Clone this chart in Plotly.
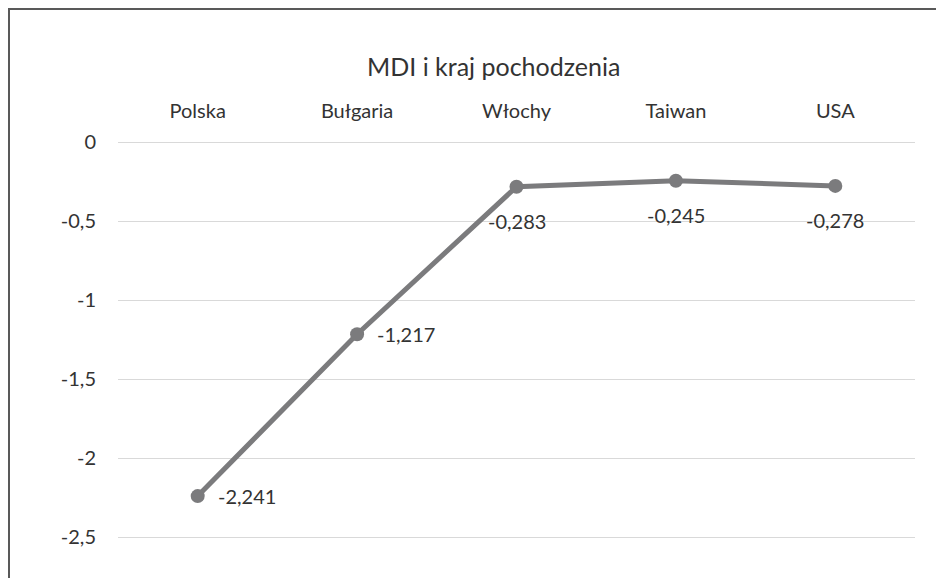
import plotly.graph_objects as go

categories = ["Polska", "Bułgaria", "Włochy", "Taiwan", "USA"]
values = [-2.241, -1.217, -0.283, -0.245, -0.278]
label_pos = ["right", "right", "below", "below", "below"]
y_ticks = [0, -0.5, -1, -1.5, -2, -2.5]

W, H = 944, 578
ML, MR, MT, MB = 110, 37, 130, 0
pw, ph = W - ML - MR, H - MT - MB
PX_PER_UNIT = 158.0
TOP_PAD_PX = 4


def fmt(v):
    return f"{v:.3f}".replace(".", ",")


def fmt_tick(v):
    if v == 0:
        return "0"
    return f"{v:g}".replace(".", ",")


line_color = "#7b7b7d"
text_color = "#333333"
font_family = "Lato, 'Open Sans', sans-serif"
FS = 20

fig = go.Figure()
fig.add_trace(go.Scatter(
    x=categories, y=values, mode="lines+markers",
    line=dict(color=line_color, width=5),
    marker=dict(color=line_color, size=14),
    hoverinfo="skip", showlegend=False,
))

annotations = []
for c, v, p in zip(categories, values, label_pos):
    if p == "right":
        annotations.append(dict(x=c, y=v, xref="x", yref="y", text=fmt(v),
                                showarrow=False, xanchor="left", yanchor="middle",
                                xshift=18, font=dict(size=FS, color=text_color, family=font_family)))
    else:
        annotations.append(dict(x=c, y=v, xref="x", yref="y", text=fmt(v),
                                showarrow=False, xanchor="center", yanchor="middle",
                                yshift=-34, font=dict(size=FS, color=text_color, family=font_family)))

# title
annotations.append(dict(x=(485 - ML) / pw, y=(H - MB - 58) / ph, xref="paper", yref="paper",
                        text="MDI i kraj pochodzenia", showarrow=False,
                        xanchor="center", yanchor="middle",
                        font=dict(size=25, color=text_color, family=font_family)))

y_top = TOP_PAD_PX / PX_PER_UNIT
y_min = y_top - ph / PX_PER_UNIT

# outer border (left & top visible)
x0 = (1 - ML) / pw
x1 = (980 - ML) / pw
y1 = (H - MB - 1) / ph

fig.update_layout(
    width=W, height=H,
    margin=dict(l=ML, r=MR, t=MT, b=MB, pad=0),
    paper_bgcolor="white", plot_bgcolor="white",
    font=dict(family=font_family, color=text_color, size=FS),
    xaxis=dict(side="top", showgrid=False, showline=False, zeroline=False,
               ticks="", tickfont=dict(size=FS, color=text_color),
               range=[-0.5, 4.5], ticklabelstandoff=15, fixedrange=True),
    yaxis=dict(range=[y_min, y_top], tickvals=y_ticks, ticktext=[fmt_tick(t) for t in y_ticks],
               showgrid=True, gridcolor="#d9d9d9", gridwidth=1.3, zeroline=False,
               showline=False, ticks="", tickfont=dict(size=FS, color=text_color),
               ticklabelstandoff=21, fixedrange=True),
    annotations=annotations,
    shapes=[dict(type="rect", xref="paper", yref="paper", x0=x0, x1=x1, y0=-0.1, y1=y1,
                 line=dict(color="#595959", width=2), fillcolor="rgba(0,0,0,0)", layer="below")],
)

fig.write_html("out.html")
